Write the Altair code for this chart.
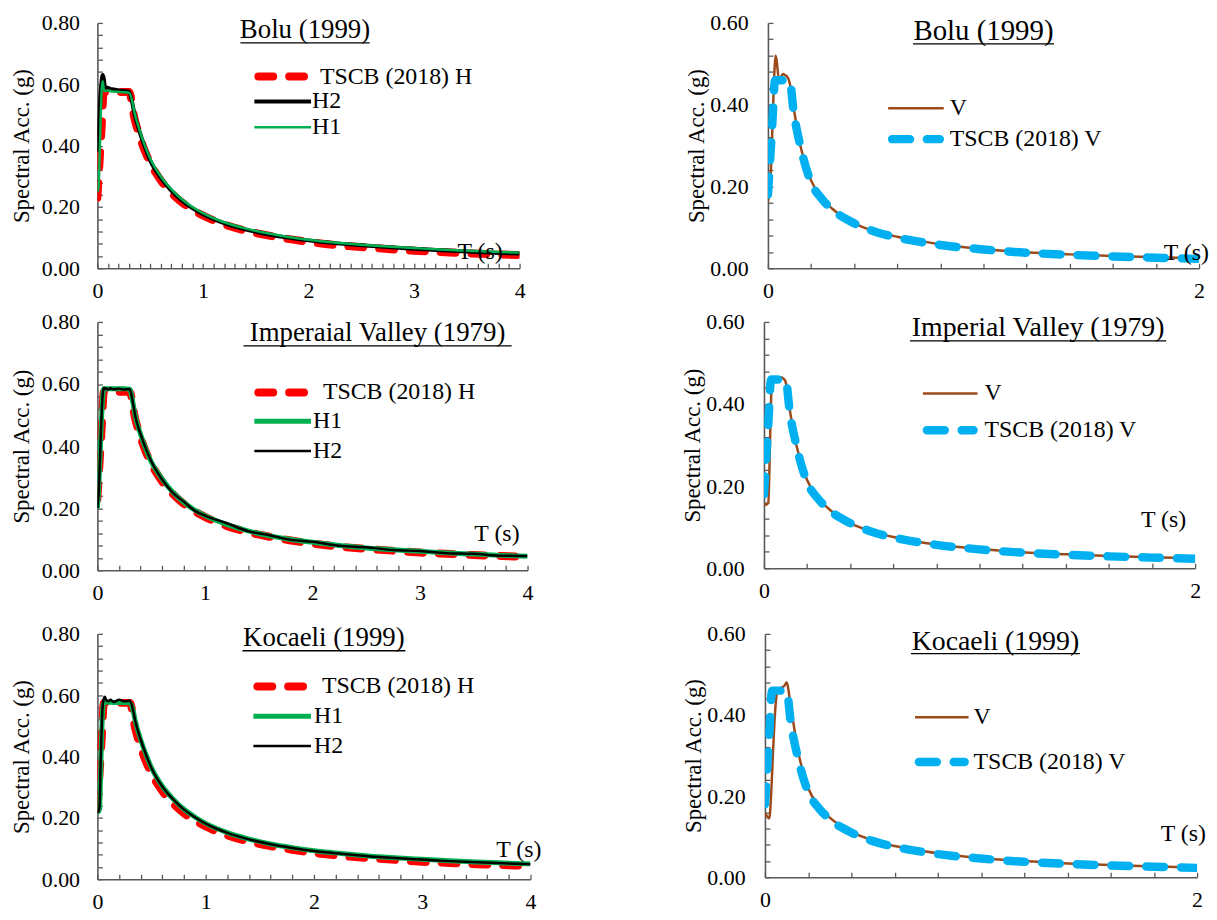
import altair as alt
import pandas as pd

FONT = "Liberation Serif"
AX = "#595959"

# ---------------- data ----------------
T_H = [0, 0.02, 0.04, 0.06, 0.08, 0.10, 0.15, 0.20, 0.25, 0.30, 0.35, 0.40, 0.45, 0.50,
       0.60, 0.70, 0.80, 0.90, 1.00, 1.20, 1.40, 1.60, 1.80, 2.00, 2.25, 2.50, 2.75,
       3.00, 3.25, 3.50, 3.75, 4.00]
TSCB_H = [0.23, 0.345, 0.46, 0.575, 0.575, 0.575, 0.575, 0.575, 0.575, 0.575, 0.49, 0.43,
          0.382, 0.344, 0.287, 0.246, 0.215, 0.191, 0.172, 0.143, 0.123, 0.108, 0.096,
          0.086, 0.076, 0.069, 0.063, 0.057, 0.053, 0.049, 0.046, 0.043]

T_R = [0, 0.01, 0.02, 0.03, 0.04, 0.05, 0.06, 0.07, 0.08, 0.10, 0.12, 0.15, 0.20, 0.25,
       0.30, 0.33, 0.35, 0.40, 0.45, 0.50, 0.60, 0.70, 0.80, 0.90, 1.00, 1.20, 1.40,
       1.60, 1.80, 2.00, 2.25, 2.50, 2.75, 3.00, 3.25, 3.50, 3.75, 4.00]
BOLU_H2 = [0.38, 0.42, 0.50, 0.57, 0.61, 0.63, 0.62, 0.595, 0.59, 0.588, 0.585, 0.583,
           0.58, 0.578, 0.575, 0.54, 0.505, 0.445, 0.395, 0.352, 0.295, 0.253, 0.221,
           0.196, 0.176, 0.147, 0.127, 0.112, 0.100, 0.091, 0.082, 0.075, 0.069, 0.064,
           0.059, 0.055, 0.051, 0.048]
BOLU_H1 = [0.25, 0.26, 0.35, 0.48, 0.58, 0.61, 0.585, 0.578, 0.578, 0.58, 0.578, 0.576,
           0.575, 0.574, 0.572, 0.545, 0.51, 0.45, 0.40, 0.358, 0.30, 0.258, 0.225, 0.20,
           0.18, 0.15, 0.13, 0.115, 0.103, 0.093, 0.084, 0.077, 0.071, 0.066, 0.061,
           0.057, 0.054, 0.051]
IMP_H1 = [0.20, 0.25, 0.33, 0.42, 0.50, 0.56, 0.585, 0.585, 0.585, 0.585, 0.585, 0.585,
          0.585, 0.585, 0.583, 0.54, 0.50, 0.44, 0.39, 0.35, 0.295, 0.252, 0.22, 0.195,
          0.176, 0.148, 0.127, 0.111, 0.099, 0.090, 0.080, 0.072, 0.066, 0.061, 0.056,
          0.052, 0.048, 0.045]
IMP_H2 = [0.20, 0.24, 0.32, 0.42, 0.51, 0.57, 0.588, 0.583, 0.586, 0.582, 0.586, 0.583,
          0.585, 0.582, 0.584, 0.54, 0.50, 0.44, 0.392, 0.352, 0.293, 0.25, 0.222, 0.193,
          0.176, 0.152, 0.126, 0.113, 0.098, 0.092, 0.079, 0.074, 0.065, 0.062, 0.055,
          0.053, 0.047, 0.046]
KOC_H2 = [0.22, 0.22, 0.24, 0.38, 0.50, 0.57, 0.59, 0.595, 0.585, 0.58, 0.585, 0.578,
          0.585, 0.58, 0.582, 0.55, 0.515, 0.455, 0.405, 0.362, 0.302, 0.26, 0.227, 0.202,
          0.181, 0.151, 0.13, 0.114, 0.102, 0.092, 0.083, 0.075, 0.069, 0.064, 0.059,
          0.055, 0.052, 0.049]
KOC_H1 = [0.22, 0.22, 0.23, 0.35, 0.48, 0.555, 0.575, 0.577, 0.577, 0.577, 0.577, 0.576,
          0.576, 0.576, 0.575, 0.55, 0.515, 0.455, 0.405, 0.363, 0.303, 0.261, 0.228,
          0.203, 0.182, 0.152, 0.131, 0.115, 0.103, 0.093, 0.084, 0.076, 0.070, 0.065,
          0.060, 0.056, 0.053, 0.050]

T_TV = [0, 0.01, 0.02, 0.033, 0.05, 0.07, 0.10, 0.12, 0.15, 0.20, 0.25, 0.30, 0.40, 0.50,
        0.60, 0.70, 0.80, 1.00, 1.20, 1.40, 1.60, 1.80, 2.00]
TSCB_V = [0.18, 0.265, 0.35, 0.46, 0.46, 0.46, 0.46, 0.38, 0.30, 0.21, 0.17, 0.143, 0.11,
          0.089, 0.075, 0.065, 0.057, 0.046, 0.038, 0.033, 0.029, 0.026, 0.023]

T_V = [0, 0.01, 0.02, 0.03, 0.035, 0.04, 0.05, 0.06, 0.07, 0.08, 0.09, 0.10, 0.12, 0.15,
       0.20, 0.25, 0.30, 0.40, 0.50, 0.60, 0.70, 0.80, 1.00, 1.20, 1.40, 1.60, 1.80, 2.00]
BOLU_V = [0.165, 0.20, 0.33, 0.48, 0.52, 0.51, 0.465, 0.468, 0.475, 0.472, 0.468, 0.455,
          0.39, 0.30, 0.215, 0.172, 0.145, 0.11, 0.09, 0.077, 0.067, 0.059, 0.047, 0.039,
          0.034, 0.030, 0.027, 0.024]
IMP_V = [0.155, 0.155, 0.16, 0.35, 0.44, 0.46, 0.462, 0.465, 0.463, 0.465, 0.462, 0.455,
         0.385, 0.30, 0.215, 0.172, 0.145, 0.11, 0.09, 0.076, 0.066, 0.058, 0.047, 0.039,
         0.034, 0.030, 0.027, 0.024]
KOC_V = [0.158, 0.15, 0.145, 0.22, 0.28, 0.34, 0.43, 0.462, 0.465, 0.468, 0.472, 0.48,
         0.42, 0.32, 0.22, 0.175, 0.147, 0.112, 0.091, 0.077, 0.067, 0.059, 0.047, 0.040,
         0.034, 0.030, 0.027, 0.024]

# tick labels
X_MAJOR_H = [0, 1, 2, 3, 4]
X_MAJOR_V = [0, 1, 2]
Y_MAJOR_H = [0, 0.2, 0.4, 0.6, 0.8]
Y_MAJOR_V = [0, 0.2, 0.4, 0.6]

RED, GREEN, BLACK, BROWN, CYAN = "#FF0000", "#00B050", "#000000", "#9C4A1C", "#00B0F0"
RED_DASH = [15, 16]
CYAN_DASH = [18, 17]


def steps(n, step):
    return [round(i * step, 3) for i in range(n + 1)]


PANELS = [
    dict(  # top-left
        W=425, H=247, xmax=4, ymax=0.8, xmajor=X_MAJOR_H, ymajor=Y_MAJOR_H,
        xminor=steps(40, 0.1), yminor=steps(20, 0.04), ylabpad=18, ytpad=8,
        title="Bolu (1999)", tfs=27, tcx=209, tby=15, uy=20, uhw=65,
        ts=(408, 238),
        series=[("TSCB (2018) H", T_H, TSCB_H, RED, 8, RED_DASH),
                ("H2", T_R, BOLU_H2, BLACK, 4, None),
                ("H1", T_R, BOLU_H1, GREEN, 2.5, None)],
        legend=[(0, 54, 224), (1, 79, 216), (2, 105, 216)], lx=(158, 215),
    ),
    dict(  # top-right
        W=434, H=247, xmax=2, ymax=0.6, xmajor=X_MAJOR_V, ymajor=Y_MAJOR_V,
        xminor=steps(10, 0.2), yminor=steps(15, 0.04), ylabpad=20, ytpad=1,
        title="Bolu (1999)", tfs=29, tcx=217, tby=17, uy=21, uhw=71,
        ts=(444, 239),
        series=[("V", T_V, BOLU_V, BROWN, 2.5, None),
                ("TSCB (2018) V", T_TV, TSCB_V, CYAN, 8.5, CYAN_DASH)],
        legend=[(0, 86, 183), (1, 117, 183)], lx=(121, 177),
    ),
    dict(  # middle-left
        W=433, H=250, xmax=4, ymax=0.8, xmajor=X_MAJOR_H, ymajor=Y_MAJOR_H,
        xminor=steps(20, 0.2), yminor=steps(20, 0.04), ylabpad=18, ytpad=8,
        title="Imperaial Valley (1979)", tfs=27, tcx=282, tby=19, uy=24, uhw=135,
        ts=(425, 221),
        series=[("TSCB (2018) H", T_H, TSCB_H, RED, 8, RED_DASH),
                ("H1", T_R, IMP_H1, GREEN, 5, None),
                ("H2", T_R, IMP_H2, BLACK, 2.5, None)],
        legend=[(0, 71, 227), (1, 100, 217), (2, 130, 217)], lx=(158, 215),
    ),
    dict(  # middle-right
        W=434, H=248, xmax=2, ymax=0.6, xmajor=X_MAJOR_V, ymajor=Y_MAJOR_V,
        xminor=steps(10, 0.2), yminor=steps(15, 0.04), ylabpad=20, ytpad=1,
        title="Imperial Valley (1979)", tfs=28, tcx=276, tby=14, uy=19, uhw=129,
        ts=(425, 206),
        series=[("V", T_V, IMP_V, BROWN, 2.5, None),
                ("TSCB (2018) V", T_TV, TSCB_V, CYAN, 8.5, CYAN_DASH)],
        legend=[(0, 72, 222), (1, 109, 222)], lx=(160, 215),
    ),
    dict(  # bottom-left
        W=436, H=247, xmax=4, ymax=0.8, xmajor=X_MAJOR_H, ymajor=Y_MAJOR_H,
        xminor=steps(20, 0.2), yminor=steps(20, 0.04), ylabpad=18, ytpad=8,
        title="Kocaeli (1999)", tfs=27, tcx=228, tby=12, uy=17, uhw=82,
        ts=(447, 225),
        series=[("TSCB (2018) H", T_H, TSCB_H, RED, 8, RED_DASH),
                ("H1", T_R, KOC_H1, GREEN, 5, None),
                ("H2", T_R, KOC_H2, BLACK, 2.5, None)],
        legend=[(0, 53, 226), (1, 83, 218), (2, 113, 218)], lx=(157, 215),
    ),
    dict(  # bottom-right
        W=435, H=245, xmax=2, ymax=0.6, xmajor=X_MAJOR_V, ymajor=Y_MAJOR_V,
        xminor=steps(10, 0.2), yminor=steps(15, 0.04), ylabpad=20, ytpad=1,
        title="Kocaeli (1999)", tfs=28, tcx=232, tby=16, uy=20, uhw=85,
        ts=(444, 209),
        series=[("V", T_V, KOC_V, BROWN, 2.5, None),
                ("TSCB (2018) V", T_TV, TSCB_V, CYAN, 8.5, CYAN_DASH)],
        legend=[(0, 84, 210), (1, 129, 210)], lx=(151, 205),
    ),
]

one = pd.DataFrame({"k": [0]})


def make_panel(p):
    W, H = p["W"], p["H"]
    xs = alt.Scale(domain=[0, p["xmax"]], nice=False, zero=True)
    ys = alt.Scale(domain=[0, p["ymax"]], nice=False, zero=True)
    layers = []
    for i, (name, T, SA, col, sw, dash) in enumerate(p["series"]):
        df = pd.DataFrame({"T": T, "SA": SA})
        if i == 0:
            xa = alt.Axis(values=p["xmajor"], format="d", orient="bottom", tickSize=0,
                          labelPadding=12, grid=False, domainColor=AX, domainWidth=1.6,
                          labelFont=FONT, labelFontSize=22, labelColor="black",
                          labelFlush=False, labelOverlap=False, title=None)
            ya = alt.Axis(values=p["ymajor"], format=".2f", orient="left", tickSize=0,
                          labelPadding=p["ylabpad"], grid=False, domainColor=AX,
                          domainWidth=1.6, labelFont=FONT, labelFontSize=22,
                          labelColor="black", labelOverlap=False,
                          title="Spectral Acc. (g)", titleFont=FONT, titleFontSize=23,
                          titleFontWeight="normal", titleColor="black",
                          titlePadding=p["ytpad"])
        else:
            xa = None
            ya = None
        mk = dict(color=col, strokeWidth=sw, interpolate="monotone", clip=True)
        if dash:
            mk["strokeDash"] = dash
            mk["strokeCap"] = "round"
        layers.append(
            alt.Chart(df).mark_line(**mk).encode(
                x=alt.X("T:Q", scale=xs, axis=xa),
                y=alt.Y("SA:Q", scale=ys, axis=ya),
            )
        )
    # inside-pointing ticks
    T0, S0 = p["series"][0][1], p["series"][0][2]
    layers.append(
        alt.Chart(pd.DataFrame({"T": T0, "SA": S0})).mark_line(opacity=0).encode(
            x=alt.X("T:Q", scale=xs, axis=alt.Axis(
                orient="top", offset=-H, values=p["xminor"], labels=False, domain=False,
                tickSize=5, tickColor=AX, tickWidth=1.3, grid=False, title=None)),
            y=alt.Y("SA:Q", scale=ys, axis=alt.Axis(
                orient="right", offset=-W, values=p["yminor"], labels=False, domain=False,
                tickSize=5, tickColor=AX, tickWidth=1.3, grid=False, title=None)),
        )
    )
    # panel title, underlined
    layers.append(
        alt.Chart(one).mark_text(text=p["title"], font=FONT, fontSize=p["tfs"],
                                 align="center", baseline="alphabetic", color="black")
        .encode(x=alt.value(p["tcx"]), y=alt.value(p["tby"]))
    )
    layers.append(
        alt.Chart(one).mark_rule(color="black", strokeWidth=1.3).encode(
            x=alt.value(p["tcx"] - p["uhw"]), x2=alt.value(p["tcx"] + p["uhw"]),
            y=alt.value(p["uy"]))
    )
    # axis title T (s)
    layers.append(
        alt.Chart(one).mark_text(text="T (s)", font=FONT, fontSize=24, align="right",
                                 baseline="alphabetic", color="black")
        .encode(x=alt.value(p["ts"][0]), y=alt.value(p["ts"][1]))
    )
    # legend
    x0, x1 = p["lx"]
    for idx, ly, tx in p["legend"]:
        name, _, _, col, sw, dash = p["series"][idx]
        rk = dict(color=col, strokeWidth=sw)
        a, b = x0, x1
        if dash:
            rk["strokeDash"] = dash
            rk["strokeCap"] = "round"
            a, b = x0 + 4, x1 - 4
        layers.append(
            alt.Chart(one).mark_rule(**rk).encode(
                x=alt.value(a), x2=alt.value(b), y=alt.value(ly))
        )
        layers.append(
            alt.Chart(one).mark_text(text=name, font=FONT, fontSize=24, align="left",
                                     baseline="middle", color="black")
            .encode(x=alt.value(tx), y=alt.value(ly))
        )
    return (alt.layer(*layers)
            .properties(width=W, height=H)
            .resolve_axis(x="independent", y="independent"))


P = [make_panel(p) for p in PANELS]
row1 = alt.hconcat(P[0], P[1], spacing=161).resolve_scale(x="independent", y="independent")
row2 = alt.hconcat(P[2], P[3], spacing=149).resolve_scale(x="independent", y="independent")
row3 = alt.hconcat(P[4], P[5], spacing=142).resolve_scale(x="independent", y="independent")
top = alt.vconcat(row1, row2, spacing=10).resolve_scale(x="independent", y="independent")
chart = (alt.vconcat(top, row3, spacing=20)
         .resolve_scale(x="independent", y="independent")
         .properties(padding={"left": 2, "top": 1, "right": 0, "bottom": 0},
                     background="white")
         .configure(font=FONT)
         .configure_axis(labelFont=FONT, titleFont=FONT, labelFontSize=22)
         .configure_text(font=FONT)
         .configure_view(stroke=None))

chart.save("out.html", embed_options={"renderer": "svg", "actions": False})
